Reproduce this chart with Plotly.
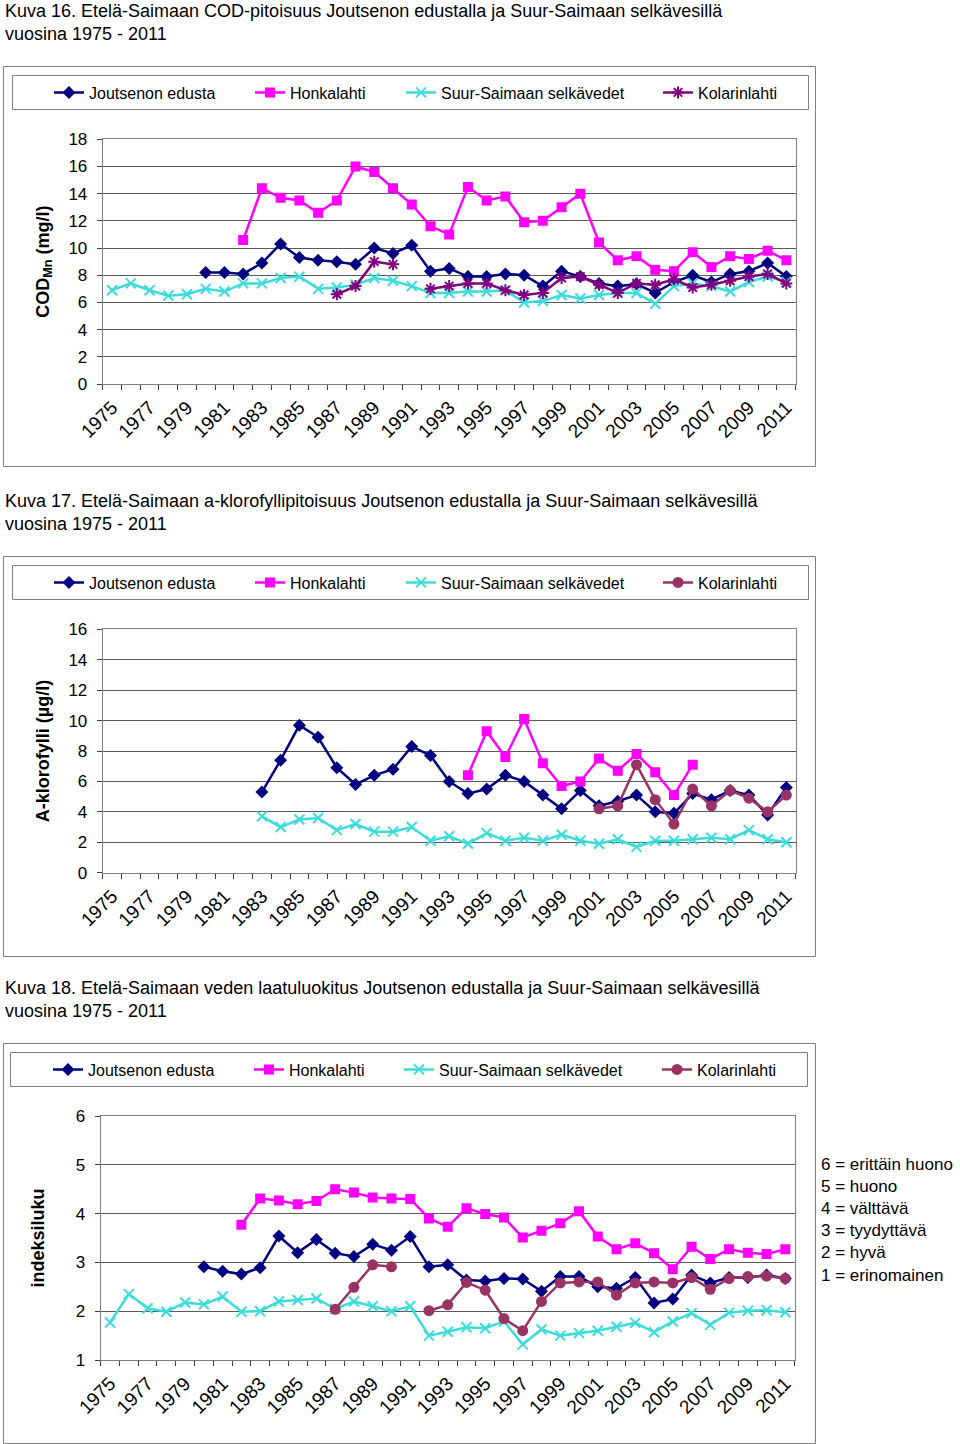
import plotly.graph_objects as go

W, H = 960, 1444
years = list(range(1975, 2012))
tick_years = years[::2]
series_names = ["Joutsenon edusta", "Honkalahti", "Suur-Saimaan selkävedet", "Kolarinlahti"]

# Kuva 16: COD (mg/l)
cod_joutseno = [None]*5 + [8.2, 8.2, 8.1, 8.9, 10.3, 9.3, 9.1, 9.0, 8.8, 10.0, 9.6, 10.2, 8.3, 8.5, 7.9, 7.9,
                           8.1, 8.0, 7.2, 8.3, 7.9, 7.4, 7.2, 7.35, 6.7, 7.5, 8.0, 7.5, 8.1, 8.3, 8.9, 7.9]
cod_honka = [None]*7 + [10.6, 14.4, 13.7, 13.5, 12.6, 13.5, 16.0, 15.6, 14.4, 13.2, 11.6, 11.0, 14.5, 13.5,
                        13.8, 11.9, 12.0, 13.0, 14.0, 10.4, 9.1, 9.4, 8.4, 8.3, 9.7, 8.6, 9.4, 9.2, 9.8, 9.1]
cod_suur = [6.9, 7.4, 6.9, 6.5, 6.6, 7.0, 6.8, 7.4, 7.4, 7.8, 7.9, 7.0, 7.1, 7.3, 7.8, 7.6, 7.2, 6.7, 6.7,
            6.8, 6.8, 6.9, 6.0, 6.1, 6.55, 6.3, 6.55, 6.7, 6.7, 5.9, 7.2, 7.4, 7.2, 6.8, 7.5, 7.9, 7.5]
cod_kolar = [None]*12 + [6.6, 7.2, 9.0, 8.8, None, 7.0, 7.2, 7.4, 7.4, 6.9, 6.55, 6.7, 7.8, 7.9, 7.3, 6.7,
                         7.4, 7.3, 7.7, 7.1, 7.3, 7.6, 7.9, 8.1, 7.4]

# Kuva 17: a-klorofylli (µg/l)
chl_joutseno = [None]*8 + [5.3, 7.4, 9.7, 8.9, 6.9, 5.8, 6.4, 6.8, 8.3, 7.7, 6.0, 5.2, 5.5, 6.4, 6.0, 5.1,
                           4.2, 5.4, 4.4, 4.7, 5.1, 4.0, 3.9, 5.2, 4.8, 5.4, 5.1, 3.8, 5.6]
chl_honka = [None]*19 + [6.4, 9.3, 7.6, 10.1, 7.2, 5.7, 6.0, 7.5, 6.7, 7.8, 6.6, 5.1, 7.1] + [None]*5
chl_suur = [None]*8 + [3.7, 3.0, 3.5, 3.6, 2.8, 3.2, 2.7, 2.7, 3.0, 2.1, 2.4, 1.9, 2.6, 2.1, 2.3, 2.1, 2.5,
                       2.1, 1.9, 2.2, 1.7, 2.1, 2.1, 2.2, 2.3, 2.2, 2.8, 2.2, 2.0]
chl_kolar = [None]*26 + [4.2, 4.4, 7.1, 4.8, 3.2, 5.5, 4.4, 5.4, 4.9, 4.0, 5.1]

# Kuva 18: laatuluokitus (indeksiluku)
idx_joutseno = [None]*5 + [2.91, 2.82, 2.76, 2.89, 3.54, 3.2, 3.47, 3.19, 3.12, 3.37, 3.25, 3.53, 2.91, 2.95,
                           2.64, 2.62, 2.67, 2.66, 2.41, 2.71, 2.71, 2.5, 2.47, 2.69, 2.17, 2.25, 2.74, 2.58,
                           2.69, 2.69, 2.74, 2.67]
idx_honka = [None]*7 + [3.77, 4.31, 4.27, 4.19, 4.26, 4.5, 4.43, 4.33, 4.31, 4.3, 3.9, 3.73, 4.11, 3.99,
                        3.92, 3.51, 3.65, 3.8, 4.05, 3.53, 3.27, 3.39, 3.19, 2.86, 3.32, 3.07, 3.27, 3.2, 3.17, 3.27]
idx_suur = [1.77, 2.35, 2.06, 1.99, 2.18, 2.14, 2.3, 1.99, 2.0, 2.2, 2.23, 2.26, 2.05, 2.2, 2.1, 2.0, 2.1,
            1.5, 1.58, 1.67, 1.65, 1.79, 1.32, 1.63, 1.5, 1.55, 1.6, 1.68, 1.76, 1.57, 1.79, 1.96, 1.72,
            1.97, 2.01, 2.02, 1.98]
idx_kolar = [None]*12 + [2.04, 2.49, 2.95, 2.91, None, 2.01, 2.13, 2.59, 2.43, 1.85, 1.6, 2.2, 2.58, 2.6,
                         2.6, 2.33, 2.58, 2.6, 2.58, 2.69, 2.45, 2.67, 2.71, 2.72, 2.67]

titles = [
    "Kuva 16. Etelä-Saimaan COD-pitoisuus Joutsenon edustalla ja Suur-Saimaan selkävesillä<br>vuosina 1975 - 2011",
    "Kuva 17. Etelä-Saimaan a-klorofyllipitoisuus Joutsenon edustalla ja Suur-Saimaan selkävesillä<br>vuosina 1975 - 2011",
    "Kuva 18. Etelä-Saimaan veden laatuluokitus Joutsenon edustalla ja Suur-Saimaan selkävesillä<br>vuosina 1975 - 2011",
]
y_titles = ["COD<sub>Mn</sub> (mg/l)", "A-klorofylli (µg/l)", "indeksiluku"]
class_labels = ["6 = erittäin huono", "5 = huono", "4 = välttävä", "3 = tyydyttävä", "2 = hyvä", "1 = erinomainen"]

FONT = "Liberation Sans, Arial, sans-serif"
NAVY, MAG, CYAN, PURP, PLUM = "#000080", "#FF00FF", "#3CDCDC", "#800080", "#993366"


def fx(px):
    return px / W


def fy(py):
    return 1 - py / H


fig = go.Figure()

charts = [
    dict(data=[cod_joutseno, cod_honka, cod_suur, cod_kolar], off=0, xd=(102.7, 795.7), yd=(139.3, 384.0),
         yr=[0, 18], dt=2, kolar="asterisk-open", kcol=PURP, text_x=[89, 290, 441, 698], stand=14),
    dict(data=[chl_joutseno, chl_honka, chl_suur, chl_kolar], off=490, xd=(102.7, 795.7), yd=(629.3, 872.7),
         yr=[0, 16], dt=2, kolar="circle", kcol=PLUM, text_x=[89, 290, 441, 698], stand=14),
    dict(data=[idx_joutseno, idx_honka, idx_suur, idx_kolar], off=977, xd=(100.7, 794.7), yd=(1116.0, 1360.0),
         yr=[1, 6], dt=1, kolar="circle", kcol=PLUM, text_x=[88, 289, 439, 697], stand=26),
]

shapes = []
annotations = []
legend_n = 0
for ci, c in enumerate(charts):
    ax = "" if ci == 0 else str(ci + 1)
    styles = [
        dict(color=NAVY, symbol="diamond", size=10, lw=0),
        dict(color=MAG, symbol="square", size=10, lw=0),
        dict(color=CYAN, symbol="x-thin-open", size=10, lw=2),
        dict(color=c["kcol"], symbol=c["kolar"], size=11 if c["kolar"] == "circle" else 10,
             lw=0 if c["kolar"] == "circle" else 2),
    ]
    legend_y = c["off"] + 92.5
    for si, (name, vals) in enumerate(zip(series_names, c["data"])):
        legend_n += 1
        lg = "legend" if legend_n == 1 else f"legend{legend_n}"
        st = styles[si]
        fig.add_trace(go.Scatter(
            x=years, y=vals, name=name, mode="lines+markers",
            xaxis="x" + ax, yaxis="y" + ax, legend=lg, connectgaps=False, showlegend=True,
            line=dict(color=st["color"], width=2.5),
            marker=dict(symbol=st["symbol"], size=st["size"], color=st["color"],
                        line=dict(color=st["color"], width=st["lw"])),
        ))
        fig.layout[lg] = dict(
            x=fx(c["text_x"][si] - 40), xanchor="left", y=fy(legend_y), yanchor="middle",
            orientation="h", bgcolor="rgba(0,0,0,0)", borderwidth=0,
            font=dict(family=FONT, size=16, color="black"),
        )
    fig.layout["xaxis" + ax] = dict(
        domain=[fx(c["xd"][0]), fx(c["xd"][1])], anchor="y" + ax, range=[1974.5, 2011.5],
        tickmode="array", tickvals=tick_years, ticktext=[str(y) for y in tick_years],
        ticks="", tickangle=-45, tickfont=dict(family=FONT, size=19, color="black"),
        ticklabelstandoff=4,
        showline=True, linecolor="#808080", linewidth=1, mirror=True, showgrid=False, zeroline=False,
        minor=dict(tickmode="array", tickvals=[y - 0.5 for y in years] + [2011.5], ticks="outside",
                   ticklen=5, tickcolor="#404040", tickwidth=1, showgrid=False),
        fixedrange=True, automargin=False,
    )
    fig.layout["yaxis" + ax] = dict(
        domain=[fy(c["yd"][1]), fy(c["yd"][0])], anchor="x" + ax, range=c["yr"], dtick=c["dt"],
        tick0=c["yr"][0], ticks="outside", ticklen=5, tickcolor="#404040",
        tickfont=dict(family=FONT, size=17, color="black"), ticklabelstandoff=6,
        showline=True, linecolor="#808080", linewidth=1, mirror=True,
        showgrid=True, gridcolor="#5a5a5a", gridwidth=1, zeroline=False,
        title=dict(text=y_titles[ci], font=dict(family=FONT, size=18, color="black", weight="bold"),
                   standoff=c["stand"]),
        fixedrange=True, automargin=False,
    )
    o = c["off"]
    # chart area box and legend box
    shapes.append(dict(type="rect", xref="paper", yref="paper", x0=fx(3.5), x1=fx(815.5),
                       y0=fy(o + 466.5), y1=fy(o + 66.5), line=dict(color="#808080", width=1)))
    lx0 = 12 if ci < 2 else 10
    shapes.append(dict(type="rect", xref="paper", yref="paper", x0=fx(lx0 + 0.5), x1=fx(808.5 if ci < 2 else 807.5),
                       y0=fy(o + 109.5), y1=fy(o + 75.5), line=dict(color="#808080", width=1)))
    annotations.append(dict(text=titles[ci], xref="paper", yref="paper", x=fx(3), y=fy(o - 1),
                            xanchor="left", yanchor="top", align="left", showarrow=False,
                            font=dict(family=FONT, size=18, color="black")))

annotations.append(dict(text="<br>".join(class_labels), xref="paper", yref="paper", x=fx(819), y=fy(1153),
                        xanchor="left", yanchor="top", align="left", showarrow=False,
                        font=dict(family=FONT, size=17, color="black")))

fig.update_layout(
    width=W, height=H, autosize=False, showlegend=True,
    margin=dict(l=0, r=0, t=0, b=0, pad=0, autoexpand=False),
    paper_bgcolor="white", plot_bgcolor="white", font=dict(family=FONT, color="black"),
    shapes=shapes, annotations=annotations,
)

fig.write_html("out.html")
